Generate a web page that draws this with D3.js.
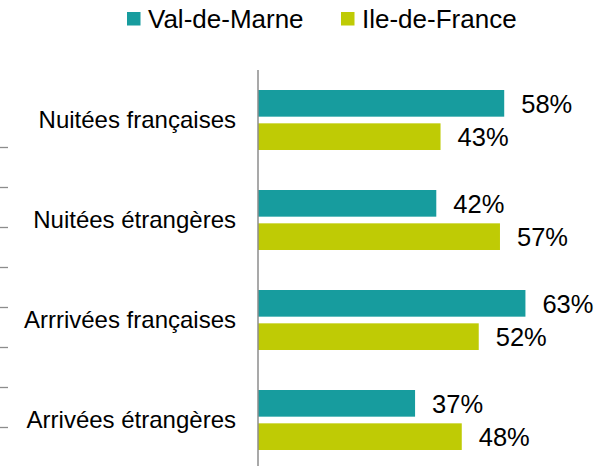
<!DOCTYPE html>
<html>
<head>
<meta charset="utf-8">
<script src="https://d3js.org/d3.v7.min.js"></script>
<style>
  body { margin: 0; background: #fff; }
  text { font-family: "Liberation Sans", Arial, sans-serif; fill: #000; }
</style>
</head>
<body>
<script>
// categories and series values (percent)
const categories = ["Nuitées françaises", "Nuitées étrangères", "Arrrivées françaises", "Arrivées étrangères"];
const seriesNames = ["Val-de-Marne", "Ile-de-France"];
const valDeMarne = [58, 42, 63, 37];
const ileDeFrance = [43, 57, 52, 48];
const colours = ["#179c9e", "#bfcb05"];

const W = 613, H = 466;
const axisX = 258;

const svg = d3.select("body").append("svg")
  .attr("width", W)
  .attr("height", H);

// scales
const x = d3.scaleLinear().domain([0, 100]).range([axisX, axisX + 424.5]);
const y = d3.scaleBand().domain(categories).range([70, 470])
  .paddingInner(0.4).paddingOuter(0.2);
const ySub = d3.scaleBand().domain(seriesNames).range([0, y.bandwidth()])
  .paddingInner(0.2);

const rows = categories.map((c, i) => ({
  cat: c,
  vals: [
    {name: seriesNames[0], v: valDeMarne[i]},
    {name: seriesNames[1], v: ileDeFrance[i]}
  ]
}));

// stray ticks on the far left
const leftScale = d3.scaleLinear().domain([0, 7]).range([147, 427]);
svg.append("g")
  .attr("transform", "translate(8,0)")
  .call(d3.axisLeft(leftScale).tickValues(d3.range(8)).tickSize(8).tickFormat(""))
  .call(g => g.select(".domain").remove())
  .call(g => g.selectAll("line").attr("stroke", "#8c8c8c").attr("stroke-width", 1.3));

// bars
const grp = svg.selectAll("g.row").data(rows).enter().append("g")
  .attr("class", "row")
  .attr("transform", d => "translate(0," + y(d.cat) + ")");

grp.selectAll("rect").data(d => d.vals).enter().append("rect")
  .attr("x", x(0))
  .attr("y", d => ySub(d.name))
  .attr("width", d => x(d.v) - x(0))
  .attr("height", ySub.bandwidth())
  .attr("fill", (d, i) => colours[i]);

grp.selectAll("text.val").data(d => d.vals).enter().append("text")
  .attr("class", "val")
  .attr("x", d => x(d.v) + 17)
  .attr("y", d => ySub(d.name) + ySub.bandwidth() / 2)
  .attr("dy", "0.36em")
  .style("font-size", "25.5px")
  .text(d => d.v + "%");

// category axis
const yAxis = svg.append("g")
  .attr("transform", "translate(" + axisX + ",0)")
  .call(d3.axisLeft(y).tickSize(0).tickPadding(22));
yAxis.select(".domain").remove();
yAxis.selectAll("text").style("font-size", "24px").style("font-family", "'Liberation Sans', Arial, sans-serif");
svg.append("line")
  .attr("x1", axisX).attr("x2", axisX)
  .attr("y1", 70).attr("y2", 470)
  .attr("stroke", "#8c8c8c").attr("stroke-width", 1.5);

// legend
const legendX = [127, 341];
const lg = svg.selectAll("g.leg").data(seriesNames).enter().append("g")
  .attr("class", "leg")
  .attr("transform", (d, i) => "translate(" + legendX[i] + ",12)");
lg.append("rect").attr("width", 13.5).attr("height", 13.5)
  .attr("fill", (d, i) => colours[i]);
lg.append("text")
  .attr("x", 21).attr("y", 15.5)
  .style("font-size", "26px")
  .text(d => d);
</script>
</body>
</html>
